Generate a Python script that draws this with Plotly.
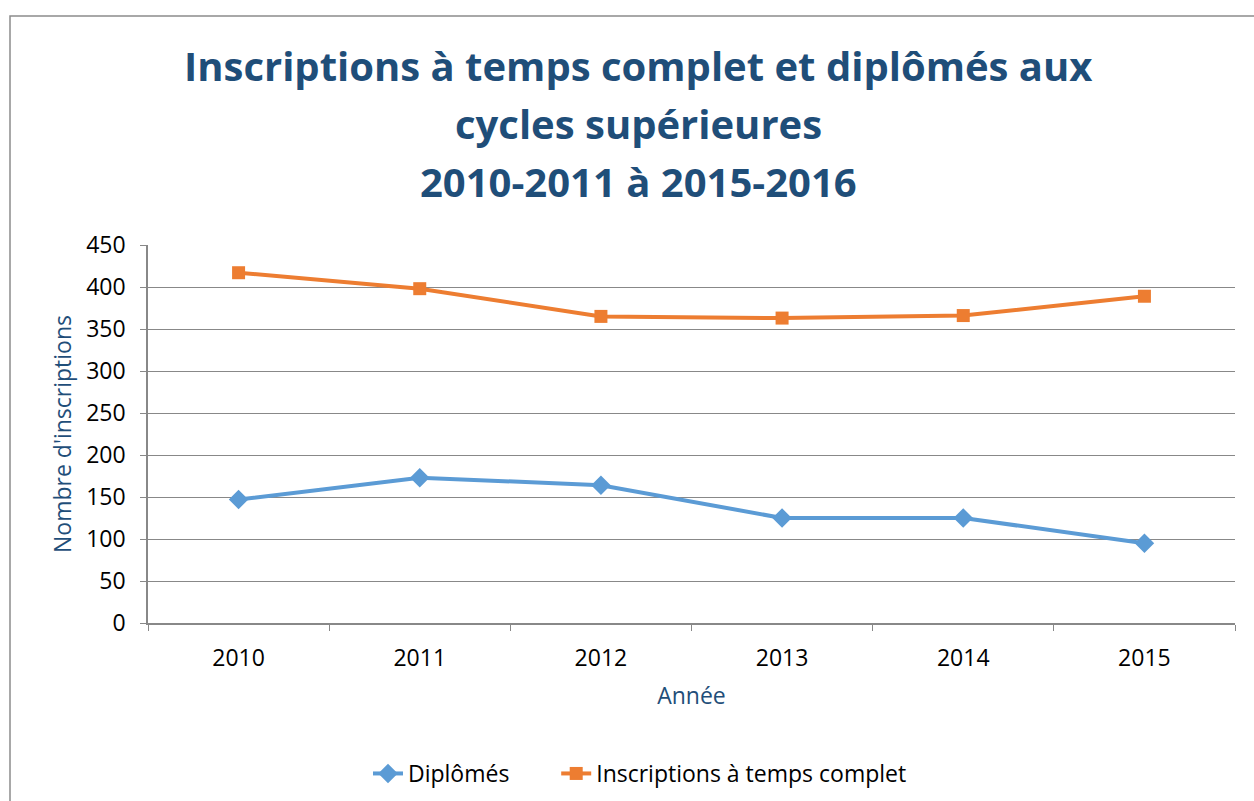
import plotly.graph_objects as go

years = ["2010", "2011", "2012", "2013", "2014", "2015"]
diplomes = [147, 173, 164, 125, 125, 95]
inscriptions = [417, 398, 365, 363, 366, 389]
y_ticks = [0, 50, 100, 150, 200, 250, 300, 350, 400, 450]
title_lines = ["Inscriptions à temps complet et diplômés aux",
               "cycles supérieures",
               "2010-2011 à 2015-2016"]

BLUE = "#5B9BD5"
ORANGE = "#ED7D31"
DARK = "#1F4E79"
GRID = "#888888"
FONT = "Open Sans"
FS = 23

fig = go.Figure()
fig.add_trace(go.Scatter(
    x=years, y=diplomes, name="Diplômés" + "\u00a0" * 7, mode="lines+markers",
    line=dict(color=BLUE, width=4),
    marker=dict(symbol="diamond", size=15, color=BLUE),
))
fig.add_trace(go.Scatter(
    x=years, y=inscriptions, name="Inscriptions à temps complet", mode="lines+markers",
    line=dict(color=ORANGE, width=4),
    marker=dict(symbol="square", size=13, color=ORANGE),
))

W, H = 1254, 801
L, R, T, B = 148, 19, 245, 178
pw, ph = W - L - R, H - T - B

def px(x):
    return (x - L) / pw

def py(y):
    return (H - B - y) / ph

fig.add_shape(type="rect", xref="paper", yref="paper",
              x0=px(10), x1=px(1270), y0=py(16), y1=py(820),
              line=dict(color="#8c8c8c", width=1.5), layer="below")

baselines = [84, 142, 200]
for txt, bl in zip(title_lines, baselines):
    fig.add_annotation(
        text=f"<b>{txt}</b>", xref="paper", yref="paper",
        x=px(638), y=py(bl + 11), xanchor="center", yanchor="bottom",
        showarrow=False, font=dict(family=FONT, size=40, color=DARK),
    )

fig.update_layout(
    width=W, height=H,
    margin=dict(l=L, r=R, t=T, b=B),
    paper_bgcolor="white", plot_bgcolor="white",
    font=dict(family=FONT, size=FS, color="black"),
    xaxis=dict(
        type="category", range=[-0.5, 5.5],
        showgrid=False, showline=True, linecolor=GRID, linewidth=1.5,
        ticks="outside", tickson="boundaries", ticklen=6, tickcolor=GRID,
        tickfont=dict(size=FS), ticklabelstandoff=14,
        title=dict(text="Année", font=dict(size=FS, color=DARK), standoff=16),
    ),
    yaxis=dict(
        range=[0, 450], tickvals=y_ticks,
        showgrid=True, gridcolor=GRID, gridwidth=1,
        showline=True, linecolor=GRID, linewidth=1.5,
        ticks="outside", ticklen=6, tickcolor=GRID,
        tickfont=dict(size=FS), zeroline=False, ticklabelstandoff=10,
        title=dict(text="Nombre d'inscriptions", font=dict(size=FS, color=DARK), standoff=8),
    ),
    legend=dict(
        orientation="h", x=368 / W, xref="container", xanchor="left",
        y=1 - 752 / H, yref="container", yanchor="top",
        font=dict(size=FS),
    ),
)

fig.write_html("out.html", post_script="document.body.style.margin='0';",
               config={"displayModeBar": False})
